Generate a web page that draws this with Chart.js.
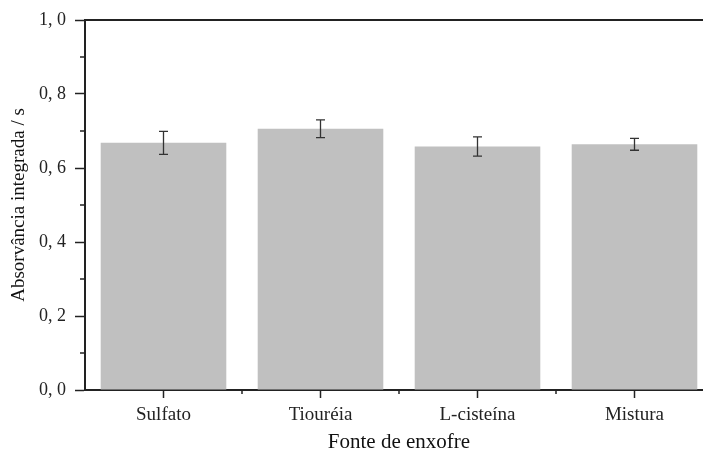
<!DOCTYPE html>
<html>
<head>
<meta charset="utf-8">
<script src="https://cdn.jsdelivr.net/npm/chart.js@4"></script>
<style>
  html, body { margin: 0; padding: 0; overflow: hidden; background: #fff; }
  #wrap { width: 713px; height: 455px; }
</style>
</head>
<body>
<div id="wrap"><canvas id="absorb-graph"></canvas></div>
<script>
const fontes = ["Sulfato", "Tiouréia", "L-cisteína", "Mistura"];
const absorvancia = [0.668, 0.706, 0.658, 0.664];
const desvio = [0.031, 0.024, 0.026, 0.016];
const yTicks = [0, 0.2, 0.4, 0.6, 0.8, 1.0];
const yMinor = [0.1, 0.3, 0.5, 0.7, 0.9];

const ink = "#222";
const serif = "'Liberation Serif', 'Times New Roman', serif";

// error bars + minor ticks + top frame line
const extras = {
  id: "extras",
  afterDatasetsDraw(chart) {
    const ctx = chart.ctx;
    const x = chart.scales.x, y = chart.scales.y;
    const area = chart.chartArea;
    ctx.save();
    ctx.strokeStyle = "#333";
    ctx.lineWidth = 1.3;
    absorvancia.forEach((v, i) => {
      const px = x.getPixelForValue(i);
      const top = y.getPixelForValue(v + desvio[i]);
      const bot = y.getPixelForValue(v - desvio[i]);
      ctx.beginPath();
      ctx.moveTo(px, top); ctx.lineTo(px, bot);
      ctx.moveTo(px - 4.5, top); ctx.lineTo(px + 4.5, top);
      ctx.moveTo(px - 4.5, bot); ctx.lineTo(px + 4.5, bot);
      ctx.stroke();
    });
    ctx.strokeStyle = ink;
    ctx.lineWidth = 1.5;
    yMinor.forEach(v => {
      const py = y.getPixelForValue(v);
      ctx.beginPath();
      ctx.moveTo(area.left - 5, py); ctx.lineTo(area.left, py);
      ctx.stroke();
    });
    for (let i = 0; i < fontes.length - 1; i++) {
      const px = x.getPixelForValue(i + 0.5);
      ctx.beginPath();
      ctx.moveTo(px, area.bottom); ctx.lineTo(px, area.bottom + 4);
      ctx.stroke();
    }
    ctx.lineWidth = 2;
    ctx.beginPath();
    ctx.moveTo(area.left, area.top); ctx.lineTo(area.right, area.top);
    ctx.stroke();
    ctx.restore();
  }
};

new Chart("absorb-graph", {
  type: "bar",
  data: {
    labels: fontes,
    datasets: [{
      data: absorvancia,
      backgroundColor: "#c0c0c0",
      barPercentage: 0.8,
      categoryPercentage: 1.0
    }]
  },
  options: {
    responsive: true,
    maintainAspectRatio: false,
    animation: false,
    layout: { padding: { top: 20, right: 0, left: 0, bottom: 0 } },
    plugins: { legend: { display: false }, tooltip: { enabled: false } },
    scales: {
      x: {
        afterFit: s => { s.height = 65; },
        grid: { display: true, drawOnChartArea: false, tickLength: 8, tickColor: ink, tickWidth: 1.5, offset: false },
        border: { color: ink, width: 2 },
        ticks: { color: "#222", padding: 6, font: { family: serif, size: 19 } },
        title: {
          display: true, text: "Fonte de enxofre", color: "#111",
          font: { family: serif, size: 21 }, padding: { top: 2, bottom: 0 }
        }
      },
      y: {
        min: 0, max: 1,
        afterFit: s => { s.width = 85; },
        afterBuildTicks: s => { s.ticks = yTicks.map(v => ({ value: v })); },
        grid: { drawOnChartArea: false, tickLength: 10, tickColor: ink, tickWidth: 1.5 },
        border: { color: ink, width: 2 },
        ticks: {
          color: "#222", padding: 9, font: { family: serif, size: 18 },
          callback: v => v.toFixed(1).replace(".", ", ")
        },
        title: {
          display: true, text: "Absorvância integrada / s", color: "#111",
          font: { family: serif, size: 19 }, padding: { top: 8, bottom: 0 }
        }
      }
    }
  },
  plugins: [extras]
});
</script>
</body>
</html>
